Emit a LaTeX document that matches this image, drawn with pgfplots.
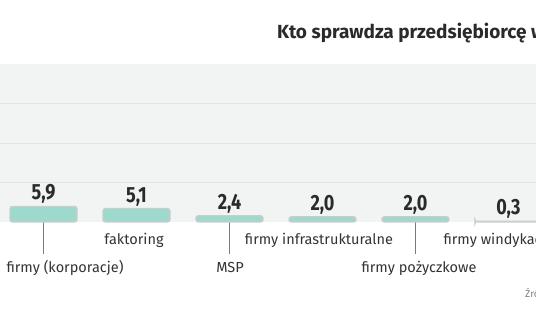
\documentclass[border=0pt]{standalone}
\usepackage{fontspec}
\setmainfont{Fira Sans}
\newfontfamily\condb[FakeStretch=0.82]{Fira Sans}
\usepackage{pgfplots}
\pgfplotsset{compat=1.18}
\definecolor{band}{HTML}{F2F3F3}
\definecolor{gridc}{HTML}{E3E5E5}
\definecolor{barfill}{HTML}{9DD9CC}
\definecolor{barline}{HTML}{C9CDCD}
\definecolor{txt}{HTML}{2A2A2A}
\definecolor{lbl}{HTML}{333333}
\definecolor{tickc}{HTML}{7A7A7A}
\begin{document}
\begin{tikzpicture}[x=1pt,y=1pt]
\useasboundingbox (0pt,0pt) rectangle (536pt,332pt);
\begin{axis}[
  at={(0pt,110pt)}, anchor=south west,
  scale only axis, width=536pt, height=158pt,
  xmin=-0.468, xmax=5.296, ymin=0, ymax=60,
  axis line style={draw=none},
  axis background/.style={fill=band},
  ytick={15,30,45}, yticklabels={}, ymajorgrids,
  grid style={color=gridc, line width=0.8pt},
  ytick style={draw=none},
  xtick={0,2,4}, xticklabels={}, xtick pos=bottom, tick align=outside,
  major tick length=32pt,
  x tick style={color=tickc, line width=0.8pt},
  clip=false,
]
\addplot[ybar, bar width=67pt, fill=barfill, draw=barline, line width=1.3pt,
  rounded corners=2.5pt,
  nodes near coords,
  nodes near coords style={font=\condb\bfseries\fontsize{22}{22}\selectfont, text=txt, inner sep=2pt},
  /pgf/number format/.cd, use comma, fixed, fixed zerofill, precision=1, assume math mode=true]
  coordinates {(0,5.9) (1,5.1) (2,2.4) (3,2.0) (4,2.0) (5,0.3)};
\end{axis}
\begin{scope}[every node/.style={font=\fontsize{14.5}{16}\selectfont, text=lbl}]
\node at (65pt,64pt) {firmy (korporacje)};
\node at (134pt,92pt) {faktoring};
\node at (230pt,64pt) {MSP};
\node at (319pt,92pt) {firmy infrastrukturalne};
\node at (419pt,64pt) {firmy pożyczkowe};
\node[anchor=west] at (440pt,92pt) {firmy windykacyjne};
\end{scope}
\node[anchor=west, font=\fontsize{10}{12}\selectfont, text=gray, inner sep=0pt] at (525pt,39pt) {Źródło: BIK};
\node[anchor=west, font=\bfseries\fontsize{19}{20}\selectfont, text=txt, inner sep=0pt] at (277pt,299pt) {Kto sprawdza przedsiębiorcę w BIK};
\end{tikzpicture}
\end{document}
